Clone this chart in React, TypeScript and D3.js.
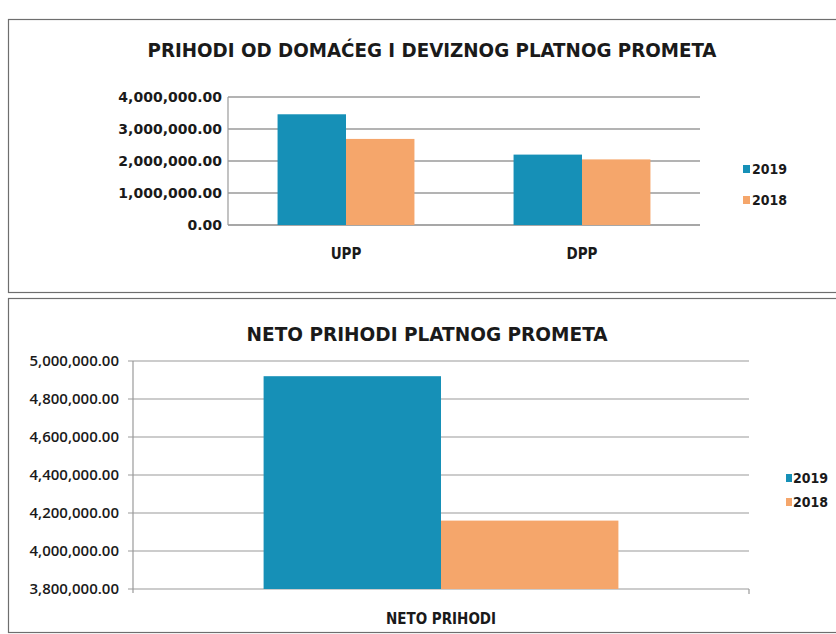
import React from "react";
import * as d3 from "d3";

const seriesNames = ["2019", "2018"];
const colors = ["#1690b7", "#f5a66b"];

const topTitle = "PRIHODI OD DOMAĆEG I DEVIZNOG PLATNOG PROMETA";
const topCategories = ["UPP", "DPP"];
const top2019 = [3460000, 2200000];
const top2018 = [2690000, 2050000];
const topTicks = [0, 1000000, 2000000, 3000000, 4000000];

const botTitle = "NETO PRIHODI PLATNOG PROMETA";
const botCategories = ["NETO PRIHODI"];
const bot2019 = [4920000];
const bot2018 = [4160000];
const botTicks = [3800000, 4000000, 4200000, 4400000, 4600000, 4800000, 5000000];

const fmt = d3.format(",.2f");

export default function App() {
  // ---------- top chart ----------
  const tY = d3.scaleLinear().domain([0, 4000000]).range([225, 97]);
  const tX = d3.scaleBand().domain(topCategories).range([228, 700]);
  const tInner = d3
    .scaleBand()
    .domain(seriesNames)
    .range([0, tX.bandwidth() * 0.58]);
  const tOff = (tX.bandwidth() - tX.bandwidth() * 0.58) / 2;
  const topVals = [top2019, top2018];

  // ---------- bottom chart ----------
  const bY = d3.scaleLinear().domain([3800000, 5000000]).range([589, 361]);
  const bX = d3.scaleBand().domain(botCategories).range([133, 749]);
  const bInner = d3
    .scaleBand()
    .domain(seriesNames)
    .range([0, bX.bandwidth() * 0.576]);
  const bOff = (bX.bandwidth() - bX.bandwidth() * 0.576) / 2;
  const botVals = [bot2019, bot2018];

  const font = "'DejaVu Sans', sans-serif";
  const openFont = "'Open Sans', 'DejaVu Sans', sans-serif";
  const condFont = "'DejaVu Sans Condensed', 'DejaVu Sans', sans-serif";

  return (
    <svg
      width={836}
      height={634}
      style={{ position: "absolute", left: 0, top: 0, background: "#fff" }}
    >
      <rect x={0} y={0} width={836} height={634} fill="#fff" />
      {/* top box */}
      <rect x={8.5} y={19.5} width={840} height={273} fill="none" stroke="#6e6e6e" strokeWidth={1.2} />
      <text
        x={432}
        y={57}
        textAnchor="middle"
        fontFamily={condFont}
        fontWeight="bold"
        fontSize={19}
        textLength={569}
        lengthAdjust="spacingAndGlyphs"
        fill="#1a1a1a"
      >
        {topTitle}
      </text>
      {topTicks.map((t) => (
        <g key={t}>
          <line
            x1={228}
            x2={700}
            y1={tY(t)}
            y2={tY(t)}
            stroke={t === 0 ? "#8a8a8a" : "#9a9a9a"}
            strokeWidth={1.3}
          />
          <text
            x={222}
            y={tY(t) + 5}
            textAnchor="end"
            fontFamily={font}
            fontWeight="bold"
            fontSize={14}
            fill="#1a1a1a"
          >
            {fmt(t)}
          </text>
        </g>
      ))}
      <line x1={228} x2={228} y1={tY(4000000)} y2={tY(0)} stroke="#9a9a9a" strokeWidth={1.2} />
      {topCategories.map((c, i) => (
        <g key={c}>
          {seriesNames.map((s, j) => (
            <rect
              key={s}
              x={(tX(c) as number) + tOff + (tInner(s) as number)}
              y={tY(topVals[j][i])}
              width={tInner.bandwidth()}
              height={tY(0) - tY(topVals[j][i])}
              fill={colors[j]}
            />
          ))}
          <text
            x={(tX(c) as number) + tX.bandwidth() / 2}
            y={259}
            textAnchor="middle"
            fontFamily={condFont}
            fontWeight="bold"
            fontSize={15}
            fill="#1a1a1a"
          >
            {c}
          </text>
        </g>
      ))}
      {seriesNames.map((s, j) => (
        <g key={s}>
          <rect x={743} y={165 + j * 31} width={7} height={8} fill={colors[j]} />
          <text x={752} y={174 + j * 31} fontFamily={condFont} fontWeight="bold" fontSize={14} fill="#1a1a1a">
            {s}
          </text>
        </g>
      ))}

      {/* bottom box */}
      <rect x={8.5} y={298.5} width={840} height={334} fill="none" stroke="#6e6e6e" strokeWidth={1.2} />
      <text
        x={427}
        y={341}
        textAnchor="middle"
        fontFamily={condFont}
        fontWeight="bold"
        fontSize={20}
        textLength={361}
        lengthAdjust="spacingAndGlyphs"
        fill="#1a1a1a"
      >
        {botTitle}
      </text>
      {botTicks.map((t) => (
        <g key={t}>
          <line x1={128} x2={749} y1={bY(t)} y2={bY(t)} stroke="#9a9a9a" strokeWidth={1.2} />
          <text
            x={119}
            y={bY(t) + 5}
            textAnchor="end"
            fontFamily={openFont}
            fontSize={15}
            fontWeight={600}
            fill="#1a1a1a"
          >
            {fmt(t)}
          </text>
        </g>
      ))}
      <line x1={133} x2={133} y1={bY(5000000)} y2={bY(3800000) + 4} stroke="#9a9a9a" strokeWidth={1.2} />
      <line x1={749} x2={749} y1={bY(3800000)} y2={bY(3800000) + 5} stroke="#9a9a9a" strokeWidth={1.2} />
      {botCategories.map((c, i) => (
        <g key={c}>
          {seriesNames.map((s, j) => (
            <rect
              key={s}
              x={(bX(c) as number) + bOff + (bInner(s) as number)}
              y={bY(botVals[j][i])}
              width={bInner.bandwidth()}
              height={bY(3800000) - bY(botVals[j][i])}
              fill={colors[j]}
            />
          ))}
          <text
            x={(bX(c) as number) + bX.bandwidth() / 2}
            y={624}
            textAnchor="middle"
            fontFamily={condFont}
            fontWeight="bold"
            fontSize={15}
            fill="#1a1a1a"
          >
            {c}
          </text>
        </g>
      ))}
      {seriesNames.map((s, j) => (
        <g key={s}>
          <rect x={786} y={474 + j * 24} width={6} height={8} fill={colors[j]} />
          <text x={793} y={483 + j * 24} fontFamily={condFont} fontWeight="bold" fontSize={14} fill="#1a1a1a">
            {s}
          </text>
        </g>
      ))}
    </svg>
  );
}
